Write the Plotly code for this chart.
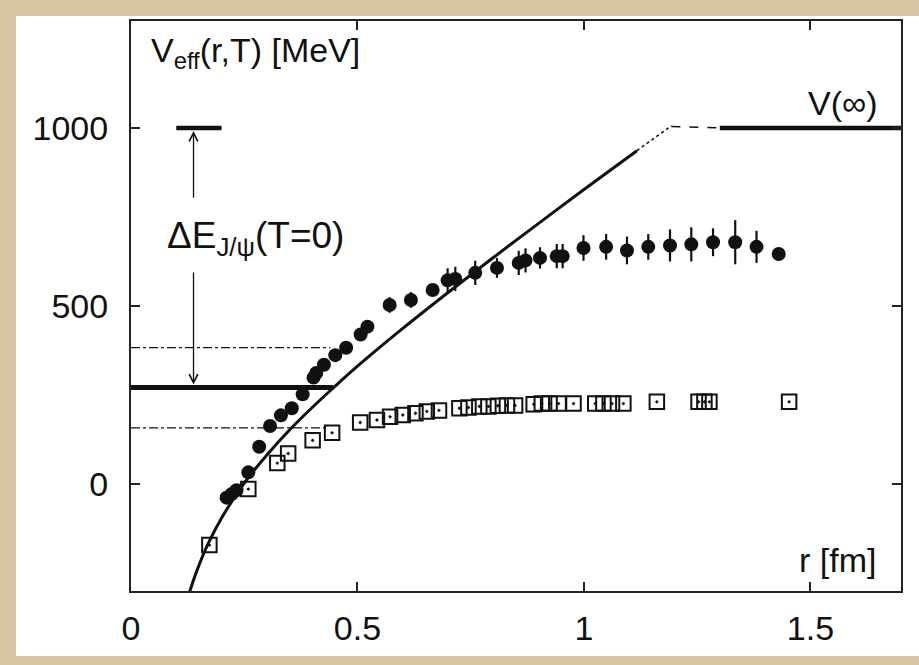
import plotly.graph_objects as go

# ---------------- data ----------------
# potential curve V(r) [MeV]
curve_r = [0.128, 0.14, 0.15, 0.17, 0.20, 0.25, 0.30, 0.35, 0.40, 0.45, 0.50,
           0.60, 0.70, 0.80, 0.90, 1.00, 1.117]
curve_v = [-308, -262, -228, -168, -95, 3, 82, 152, 215, 274, 331,
           437, 538, 636, 732, 827, 936]

# dotted / dashed continuation to V(inf)
dot_r = [1.117, 1.193]
dot_v = [936, 1006]
dash_r = [1.193, 1.300]
dash_v = [1004, 1000]
vinf_r = [1.300, 1.70]
vinf_v = [1000, 1000]

# J/psi levels
top_bar_r = [0.10, 0.20]
top_bar_v = [1000, 1000]
ground_r = [0.0, 0.447]
ground_v = [271, 271]
dd_upper_r = [0.0, 0.44]
dd_upper_v = [383, 383]
dd_lower_r = [0.0, 0.432]
dd_lower_v = [158, 158]

# filled circles with error bars
circ_r = [0.211, 0.222, 0.233, 0.259, 0.283, 0.307, 0.331, 0.355, 0.379, 0.403,
          0.409, 0.426, 0.451, 0.475, 0.507, 0.522, 0.571, 0.618, 0.666, 0.699,
          0.716, 0.760, 0.808, 0.856, 0.871, 0.903, 0.940, 0.953, 0.999, 1.049,
          1.095, 1.142, 1.190, 1.237, 1.285, 1.334, 1.381, 1.430]
circ_v = [-38, -28, -17, 33, 105, 163, 193, 213, 252, 299,
          312, 335, 362, 383, 420, 442, 503, 517, 545, 572,
          576, 593, 607, 621, 628, 635, 640, 640, 663, 666,
          656, 666, 670, 673, 679, 679, 666, 646]
circ_err = [4, 4, 4, 4, 4, 4, 4, 4, 4, 5,
            5, 5, 6, 6, 8, 10, 22, 22, 17, 34,
            34, 34, 28, 34, 34, 30, 34, 34, 36, 36,
            39, 36, 45, 48, 39, 62, 45, 17]

# open squares
sq_r = [0.173, 0.259, 0.323, 0.347, 0.401, 0.444, 0.506, 0.543, 0.572, 0.600,
        0.628, 0.653, 0.680, 0.725, 0.745, 0.769, 0.789, 0.810, 0.830, 0.848,
        0.889, 0.907, 0.924, 0.944, 0.977, 1.025, 1.043, 1.062, 1.087, 1.161,
        1.253, 1.266, 1.277, 1.453]
sq_v = [-171, -14, 59, 86, 123, 144, 173, 180, 189, 194,
        199, 204, 207, 213, 215, 218, 218, 220, 221, 221,
        224, 226, 226, 226, 226, 226, 226, 226, 226, 231,
        231, 231, 231, 231]

# energy-gap arrow
arrow_r = 0.138
arrow_top = [800, 1000]
arrow_bot = [598, 271]

x_ticks = [0, 0.5, 1, 1.5]
x_ticktext = ["0", "0.5", "1", "1.5"]
y_ticks = [0, 500, 1000]
y_ticktext = ["0", "500", "1000"]

FONT = "Liberation Sans, Arial, Helvetica, sans-serif"
INK = "#111111"
PARCH = "#d8c4a0"

fig = go.Figure()

def seg(xs, ys, width, dash="solid", color=INK):
    fig.add_trace(go.Scatter(x=xs, y=ys, mode="lines",
                             line=dict(color=color, width=width, dash=dash),
                             hoverinfo="skip", showlegend=False))

seg(dd_upper_r, dd_upper_v, 1.2, "dashdot")
seg(dd_lower_r, dd_lower_v, 1.2, "dashdot")
seg(ground_r, ground_v, 5)
seg(top_bar_r, top_bar_v, 4.5)
seg(vinf_r, vinf_v, 4.5)
seg(dot_r, dot_v, 1.6, "dot")
seg(dash_r, dash_v, 1.6, "dash")

fig.add_trace(go.Scatter(x=curve_r, y=curve_v, mode="lines",
                         line=dict(color=INK, width=3, shape="spline"),
                         hoverinfo="skip", showlegend=False))

fig.add_trace(go.Scatter(x=sq_r, y=sq_v, mode="markers",
                         marker=dict(symbol="square-open-dot", size=14.5,
                                     color=INK, line=dict(width=2, color=INK)),
                         showlegend=False))

fig.add_trace(go.Scatter(x=circ_r, y=circ_v, mode="markers",
                         marker=dict(symbol="circle", size=14, color=INK),
                         error_y=dict(type="data", array=circ_err, visible=True,
                                      color=INK, thickness=2.2, width=0),
                         showlegend=False))

# background: white sheet with parchment strips on left, top and bottom
W0, W1 = 131, 901
H0, H1 = 21, 591
def px_x(p):
    return (p - W0) / (W1 - W0)
def px_y(p):
    return (H1 - p) / (H1 - H0)

for (a, b, c, d) in [(0, 16, 0, 665),      # left strip
                     (0, 919, 0, 16),      # top strip
                     (0, 919, 656, 665)]:  # bottom strip
    fig.add_shape(type="rect", xref="paper", yref="paper",
                  x0=px_x(a), x1=px_x(b), y0=px_y(d), y1=px_y(c),
                  fillcolor=PARCH, line=dict(width=0), layer="below")
# keep the right edge of the sheet white
fig.add_shape(type="rect", xref="paper", yref="paper",
              x0=px_x(901), x1=px_x(919), y0=px_y(656), y1=px_y(16),
              fillcolor="white", line=dict(width=0), layer="below")

annos = []
# arrows
annos.append(dict(x=arrow_r, y=arrow_top[1], ax=arrow_r, ay=arrow_top[0],
                  xref="x", yref="y", axref="x", ayref="y", text="",
                  showarrow=True, arrowhead=5, arrowsize=1.3, arrowwidth=1.3,
                  arrowcolor=INK, standoff=3))
annos.append(dict(x=arrow_r, y=arrow_bot[1], ax=arrow_r, ay=arrow_bot[0],
                  xref="x", yref="y", axref="x", ayref="y", text="",
                  showarrow=True, arrowhead=5, arrowsize=1.3, arrowwidth=1.3,
                  arrowcolor=INK, standoff=3))
txtfont = dict(family=FONT, size=34, color=INK)
annos.append(dict(x=0.04, y=1212, xref="x", yref="y", xanchor="left", yanchor="middle",
                  text="V<sub>eff</sub>(r,T) [MeV]", showarrow=False, font=txtfont))
annos.append(dict(x=1.654, y=1070, xref="x", yref="y", xanchor="right", yanchor="middle",
                  text="V(∞)", showarrow=False, font=txtfont))
annos.append(dict(x=1.650, y=-212, xref="x", yref="y", xanchor="right", yanchor="middle",
                  text="r [fm]", showarrow=False, font=txtfont))
annos.append(dict(x=0.075, y=690, xref="x", yref="y", xanchor="left", yanchor="middle",
                  text="ΔE<sub>J/ψ</sub>(T=0)", showarrow=False,
                  font=dict(family=FONT, size=37, color=INK)))

axis_common = dict(showline=True, linewidth=2, linecolor="#222222", mirror="allticks",
                   ticks="inside", ticklen=9, tickwidth=2, tickcolor="#222222",
                   showgrid=False, zeroline=False,
                   tickfont=dict(family=FONT, size=34, color=INK))

fig.update_layout(
    width=919, height=665,
    margin=dict(l=W0, r=919 - W1, t=H0, b=665 - H1, autoexpand=False),
    paper_bgcolor="white",
    plot_bgcolor="white",
    showlegend=False,
    xaxis=dict(range=[0, 1.7], tickvals=x_ticks, ticktext=x_ticktext,
               ticklabelstandoff=6, **axis_common),
    yaxis=dict(range=[-300, 1300], tickvals=y_ticks, ticktext=y_ticktext,
               ticklabelstandoff=14, **axis_common),
    annotations=annos,
)

fig.write_html("out.html")
